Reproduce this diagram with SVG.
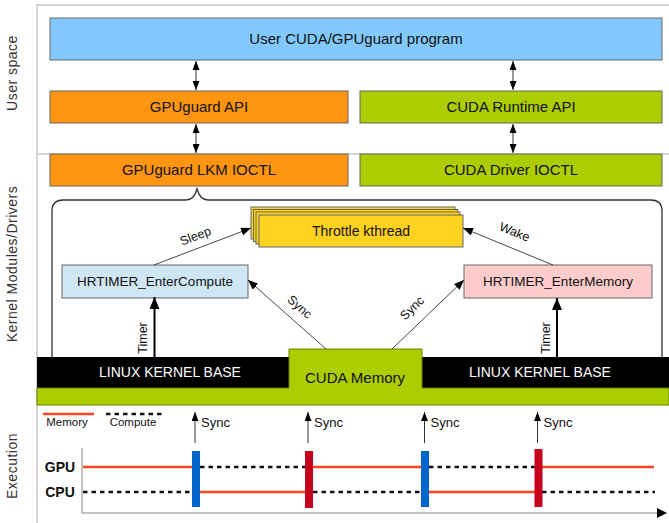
<svg xmlns="http://www.w3.org/2000/svg" width="669" height="523" viewBox="0 0 669 523">
<style>
text{font-family:"Liberation Sans",Arial,sans-serif;fill:#111}
.box{stroke:#666;stroke-width:1}
.t15{font-size:15px;text-anchor:middle}
.t14{font-size:14px;text-anchor:middle}
.side{font-size:14px;fill:#333;text-anchor:middle;letter-spacing:0.5px}
.small{font-size:12.5px;text-anchor:middle}
.frame{stroke:#c8c8c8;stroke-width:1.5;fill:none}
.thin{stroke:#333;stroke-width:0.9;fill:none}
.mem{stroke:#ff4422;stroke-width:2.5;fill:none}
.cmp{stroke:#111;stroke-width:2.5;stroke-dasharray:4.5 4;fill:none}
</style>
<defs>
<marker id="ah" markerUnits="userSpaceOnUse" markerWidth="10" markerHeight="8" refX="10" refY="4" orient="auto-start-reverse"><path d="M0,0 L10,4 L0,8 z" fill="#000"/></marker>
<marker id="ahs" markerUnits="userSpaceOnUse" markerWidth="9" markerHeight="7" refX="9" refY="3.5" orient="auto-start-reverse"><path d="M0,0 L9,3.5 L0,7 z" fill="#000"/></marker>
<marker id="ahb" markerUnits="userSpaceOnUse" markerWidth="12" markerHeight="10" refX="12" refY="5" orient="auto"><path d="M0,0 L12,5 L0,10 z" fill="#000"/></marker>
</defs>

<!-- frame -->
<g id="frame">
<path class="frame" d="M669,5 H37 V523"/>
<path class="frame" d="M37,154 H669"/>
</g>

<!-- side labels -->
<g id="side-labels">
<text class="side" transform="translate(17,73) rotate(-90)">User space</text>
<text class="side" transform="translate(17,264) rotate(-90)">Kernel Modules/Drivers</text>
<text class="side" transform="translate(17,466) rotate(-90)">Execution</text>
</g>

<g id="user-program">
<rect class="box" x="50" y="18" width="612" height="42" fill="#82c9ff"/>
<text class="t15" x="356" y="44">User CUDA/GPUguard program</text>
</g>
<g id="gpuguard-api">
<rect class="box" x="50" y="91" width="298" height="32" fill="#ff9511"/>
<text class="t15" x="199" y="112">GPUguard API</text>
</g>
<g id="cuda-runtime-api">
<rect class="box" x="360" y="91" width="302" height="32" fill="#adcd00"/>
<text class="t15" x="511" y="112">CUDA Runtime API</text>
</g>
<g id="gpuguard-lkm-ioctl">
<rect class="box" x="50" y="154" width="298" height="32" fill="#ff9511"/>
<text class="t15" x="199" y="175">GPUguard LKM IOCTL</text>
</g>
<g id="cuda-driver-ioctl">
<rect class="box" x="360" y="154" width="302" height="32" fill="#adcd00"/>
<text class="t15" x="511" y="175">CUDA Driver IOCTL</text>
</g>

<!-- brace / kernel module frame -->
<g id="lkm-brace">
<path d="M52,360 V211 Q52,200 63,200 H186 Q194,200 197,189 Q200,200 208,200 H651 Q662,200 662,211 V360" fill="none" stroke="#333" stroke-width="1.3"/>
</g>

<g id="throttle-kthread">
<rect class="box" x="251" y="207" width="204" height="32" fill="#ffd21f" stroke="#555"/>
<rect class="box" x="253.5" y="209.5" width="204" height="32" fill="#ffd21f" stroke="#555"/>
<rect class="box" x="256" y="212" width="204" height="32" fill="#ffd21f" stroke="#555"/>
<rect class="box" x="259" y="215" width="204" height="32" fill="#ffd21f" stroke="#555"/>
<text class="t14" x="361" y="236">Throttle kthread</text>
</g>

<g id="hrtimer-compute">
<rect class="box" x="62" y="265" width="186" height="33" fill="#cfe6f5"/>
<text class="t14" x="155" y="286" style="font-size:13.5px">HRTIMER_EnterCompute</text>
</g>
<g id="hrtimer-memory">
<rect class="box" x="464" y="265" width="188" height="33" fill="#ffcccc"/>
<text class="t14" x="558" y="286" style="font-size:13.5px">HRTIMER_EnterMemory</text>
</g>

<g id="kernel-base">
<rect x="37" y="357" width="632" height="31" fill="#000"/>
<path d="M37,388 H289 V349 H422 V388 H669 V405 H37 Z" fill="#adcd00" stroke="#6b7d00" stroke-width="1"/>
<text class="t14" x="170" y="377" style="fill:#fff">LINUX KERNEL BASE</text>
<text class="t14" x="540" y="377" style="fill:#fff">LINUX KERNEL BASE</text>
<text class="t15" x="355" y="383">CUDA Memory</text>
</g>

<!-- connectors -->
<g id="connectors">
<line x1="196" y1="61" x2="196" y2="90" stroke="#333" stroke-width="1" marker-start="url(#ahs)" marker-end="url(#ahs)"/>
<line x1="513" y1="61" x2="513" y2="90" stroke="#333" stroke-width="1" marker-start="url(#ahs)" marker-end="url(#ahs)"/>
<line x1="196" y1="124" x2="196" y2="153" stroke="#333" stroke-width="1" marker-start="url(#ahs)" marker-end="url(#ahs)"/>
<line x1="513" y1="124" x2="513" y2="153" stroke="#333" stroke-width="1" marker-start="url(#ahs)" marker-end="url(#ahs)"/>

<line class="thin" x1="154" y1="265" x2="251" y2="228" marker-end="url(#ah)"/>
<text class="small" transform="translate(197,240) rotate(-21)">Sleep</text>
<line class="thin" x1="553" y1="265" x2="463" y2="228" marker-end="url(#ah)"/>
<text class="small" transform="translate(513,236) rotate(22)">Wake</text>

<line class="thin" x1="326" y1="349" x2="248" y2="280" marker-end="url(#ah)"/>
<text class="small" transform="translate(297,310) rotate(41.5)">Sync</text>
<line class="thin" x1="392" y1="349" x2="464" y2="280" marker-end="url(#ah)"/>
<text class="small" transform="translate(415,311) rotate(-44)">Sync</text>

<line x1="154.5" y1="357" x2="154.5" y2="297" stroke="#000" stroke-width="2" marker-end="url(#ahb)"/>
<text class="small" transform="translate(147,338) rotate(-90)">Timer</text>
<line x1="557" y1="357" x2="557" y2="298" stroke="#000" stroke-width="2" marker-end="url(#ahb)"/>
<text class="small" transform="translate(550,338) rotate(-90)">Timer</text>
</g>

<!-- execution -->
<g id="execution">
<line class="mem" x1="43" y1="414" x2="94" y2="414"/>
<text x="67" y="426" style="font-size:11.5px;text-anchor:middle">Memory</text>
<line class="cmp" x1="106" y1="414" x2="162" y2="414"/>
<text x="133" y="426" style="font-size:11.5px;text-anchor:middle">Compute</text>

<line x1="82" y1="448" x2="82" y2="513" stroke="#888" stroke-width="1"/>
<line x1="82" y1="513" x2="658" y2="513" stroke="#888" stroke-width="1.2"/>
<path d="M657,508 L667,513 L657,518 z" fill="#000"/>

<text x="60" y="472" style="font-size:14px;font-weight:bold;text-anchor:middle">GPU</text>
<text x="60" y="497" style="font-size:14px;font-weight:bold;text-anchor:middle">CPU</text>

<line class="mem" x1="83" y1="467" x2="196" y2="467"/>
<line class="cmp" x1="200" y1="467" x2="306" y2="467"/>
<line class="mem" x1="309" y1="467" x2="425" y2="467"/>
<line class="cmp" x1="429" y1="467" x2="535" y2="467"/>
<line class="mem" x1="538" y1="467" x2="654" y2="467"/>

<line class="cmp" x1="83" y1="492" x2="192" y2="492"/>
<line class="mem" x1="196" y1="492" x2="309" y2="492"/>
<line class="cmp" x1="313" y1="492" x2="421" y2="492"/>
<line class="mem" x1="425" y1="492" x2="538" y2="492"/>
<line class="cmp" x1="542" y1="492" x2="655" y2="492"/>

<rect x="192" y="451" width="8" height="56" fill="#0066cc"/>
<rect x="305" y="451" width="8" height="57" fill="#c4001c"/>
<rect x="421" y="451" width="8" height="56" fill="#0066cc"/>
<rect x="534.5" y="449" width="8" height="58" fill="#c4001c"/>

<line x1="195" y1="443" x2="195" y2="412" stroke="#333" stroke-width="1" marker-end="url(#ahs)"/>
<line x1="308" y1="443" x2="308" y2="412" stroke="#333" stroke-width="1" marker-end="url(#ahs)"/>
<line x1="424.5" y1="443" x2="424.5" y2="412" stroke="#333" stroke-width="1" marker-end="url(#ahs)"/>
<line x1="537.5" y1="443" x2="537.5" y2="412" stroke="#333" stroke-width="1" marker-end="url(#ahs)"/>
<text x="201" y="427" style="font-size:13px">Sync</text>
<text x="314" y="427" style="font-size:13px">Sync</text>
<text x="430.5" y="427" style="font-size:13px">Sync</text>
<text x="543.5" y="427" style="font-size:13px">Sync</text>
</g>
</svg>
